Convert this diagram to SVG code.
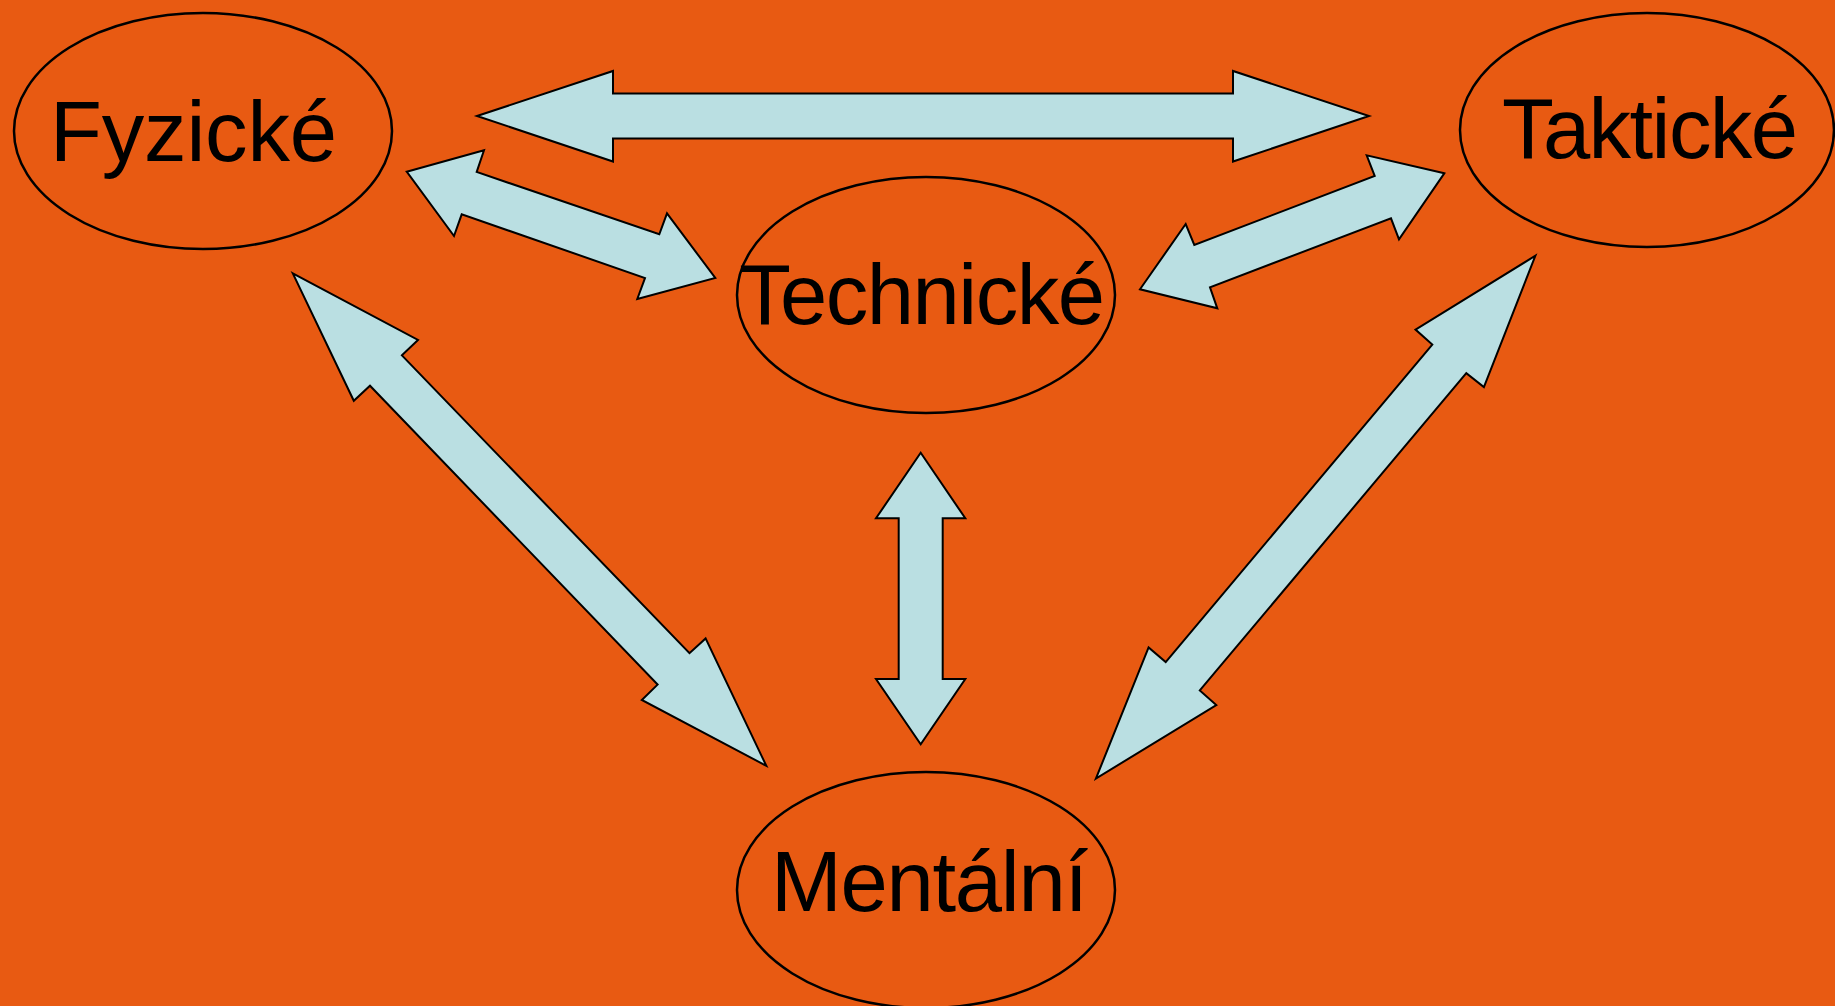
<svg xmlns="http://www.w3.org/2000/svg" width="1835" height="1006" viewBox="0 0 1835 1006">
  <style>
    .bg { fill: #E85A12; }
    .node ellipse { fill: #E85A12; stroke: #000; stroke-width: 2.5; }
    .node text { font-family: "Liberation Sans", Arial, sans-serif; font-size: 85px; fill: #000; }
    .arrow { fill: #BADFE2; stroke: #000; stroke-width: 2; stroke-linejoin: miter; }
  </style>

  <rect class="bg" x="0" y="0" width="1835" height="1006"/>

  <!-- nodes -->
  <g id="node-fyzicke" class="node">
    <ellipse cx="203" cy="131" rx="189" ry="118"/>
    <text x="50" y="161" textLength="287" lengthAdjust="spacing">Fyzické</text>
  </g>
  <g id="node-takticke" class="node">
    <ellipse cx="1647" cy="130" rx="187" ry="117"/>
    <text x="1502" y="158" textLength="296" lengthAdjust="spacing">Taktické</text>
  </g>
  <g id="node-technicke" class="node">
    <ellipse cx="926" cy="295" rx="189" ry="118"/>
    <text x="739" y="324" textLength="366" lengthAdjust="spacing">Technické</text>
  </g>
  <g id="node-mentalni" class="node">
    <ellipse cx="926" cy="890" rx="189" ry="118"/>
    <text x="771" y="911" textLength="317" lengthAdjust="spacing">Mentální</text>
  </g>

  <!-- double-headed block arrows between the nodes -->
  <g id="connectors">
    <!-- Fyzické <-> Taktické -->
    <polygon class="arrow" points="477,116 613,71 613,93.5 1233,93.5 1233,71 1369,116 1233,161.5 1233,138.5 613,138.5 613,161.5"/>
    <!-- Fyzické <-> Technické -->
    <polygon class="arrow" points="406.7,171.7 484,150.3 476.7,172 659.3,234.3 667,213.3 715.3,278 637.3,299 645,278 461.7,214.3 454,236"/>
    <!-- Technické <-> Taktické -->
    <polygon class="arrow" points="1444.3,173.3 1366.7,155.3 1374.7,176 1194.3,245 1185.7,224 1140,289.3 1217.3,308.3 1210,287.3 1391,218.3 1399,239.3"/>
    <!-- Fyzické <-> Mentální -->
    <polygon class="arrow" points="292.8,273.4 418,339.9 401.9,355.4 689.5,653.2 705.6,638.4 766.3,765.8 641.8,700 657.6,684.6 370,385.7 353.8,400.8"/>
    <!-- Technické <-> Mentální -->
    <polygon class="arrow" points="920.7,452.7 965.3,518.3 942.7,518.3 942.7,679 965.3,679 920.7,744.3 876,679 898.7,679 898.7,518.3 876,518.3"/>
    <!-- Taktické <-> Mentální -->
    <polygon class="arrow" points="1535.4,255.7 1483.9,387.1 1466.3,373.2 1199.8,690.4 1216.3,705 1095.9,778.6 1148.6,647.5 1165.7,662.1 1432.3,344.6 1415.5,329.6"/>
  </g>
</svg>
